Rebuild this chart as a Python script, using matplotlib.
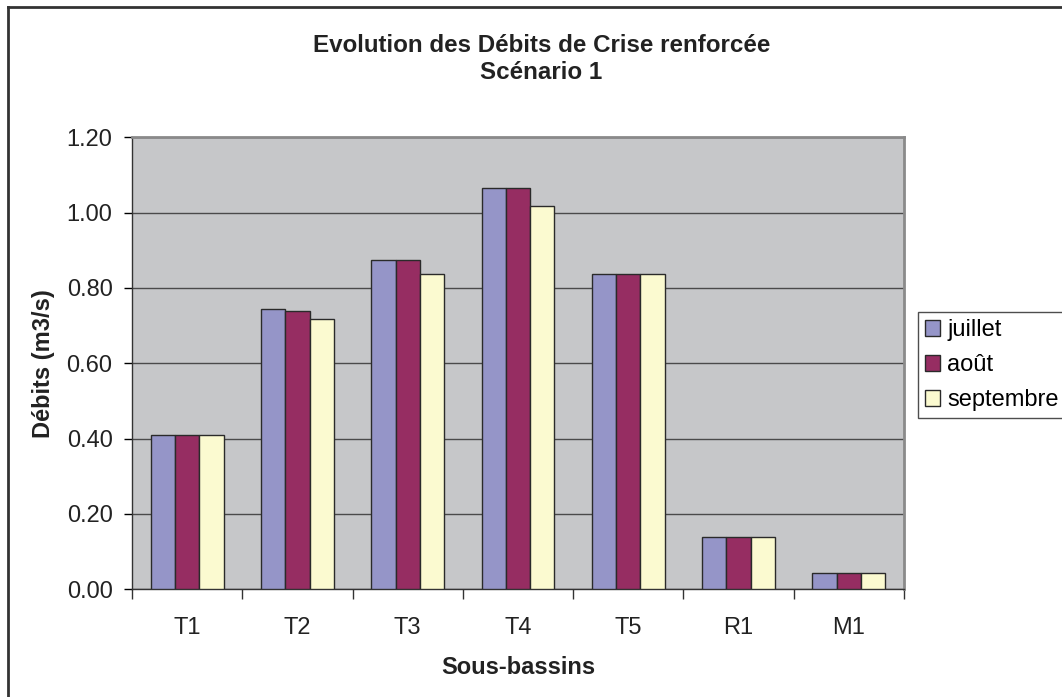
import matplotlib
matplotlib.use("Agg")
import matplotlib.pyplot as plt
import numpy as np
from matplotlib.lines import Line2D

plt.rcParams['font.family'] = ['Liberation Sans', 'DejaVu Sans']

bassins = ["T1", "T2", "T3", "T4", "T5", "R1", "M1"]
juillet = [0.41, 0.745, 0.873, 1.065, 0.838, 0.14, 0.044]
aout = [0.41, 0.740, 0.873, 1.065, 0.838, 0.14, 0.044]
septembre = [0.41, 0.718, 0.837, 1.017, 0.838, 0.14, 0.044]

series = [("juillet", juillet, "#9595C8"),
          ("août", aout, "#962D62"),
          ("septembre", septembre, "#FBFAD0")]

fig = plt.figure(figsize=(10.62, 6.97), dpi=100)
ax = fig.add_axes([0.1243, 0.1545, 0.7269, 0.6485])
ax.set_facecolor("#C6C7C9")

x = np.arange(len(bassins))
w = 0.22
for i, (name, vals, col) in enumerate(series):
    ax.bar(x + (i - 1) * w, vals, width=w, color=col, edgecolor="#2a2a2a",
           linewidth=1.0, label=name, zorder=3)

ax.set_xlim(-0.5, len(bassins) - 0.5)
ax.set_ylim(0, 1.2)
ax.set_yticks(np.arange(0, 1.21, 0.2))
ax.set_yticklabels([f"{v:.2f}" for v in np.arange(0, 1.21, 0.2)])
ax.yaxis.grid(True, color="#4a4a4a", linewidth=1.0, zorder=1)
ax.set_axisbelow(True)

# category labels centred, tick marks between categories
ax.set_xticks(x)
ax.set_xticklabels(bassins)
ax.set_xticks(np.arange(-0.5, len(bassins)), minor=True)
ax.tick_params(axis="x", which="major", length=0, pad=20, labelsize=17)
ax.tick_params(axis="x", which="minor", length=7, width=1, color="#333333", direction="out")
ax.tick_params(axis="y", length=6, width=1, pad=8, labelsize=17, direction="out")
for lab in ax.get_yticklabels() + ax.get_xticklabels():
    lab.set_color("#222222")

for side in ["top", "right"]:
    ax.spines[side].set_color("#8a8a8a")
    ax.spines[side].set_linewidth(2)
for side in ["left", "bottom"]:
    ax.spines[side].set_color("#333333")
    ax.spines[side].set_linewidth(1)

ax.set_ylabel("Débits (m3/s)", fontsize=17, fontweight="bold", labelpad=8, color="#222222")
ax.set_xlabel("Sous-bassins", fontsize=17, fontweight="bold", labelpad=12, color="#222222")

fig.text(0.510, 0.915, "Evolution des Débits de Crise renforcée\nScénario 1",
         ha="center", va="center", fontsize=17.4, fontweight="bold",
         color="#222222", linespacing=1.25)

leg = fig.legend(loc="upper left", bbox_to_anchor=(0.864, 0.552), fontsize=17,
                 frameon=True, fancybox=False, edgecolor="#222222",
                 handlelength=0.65, handleheight=0.65, handletextpad=0.3,
                 labelspacing=0.55, borderpad=0.3, borderaxespad=0)
leg.get_frame().set_linewidth(1)

# outer chart frame
fig.add_artist(Line2D([8 / 1062, 8 / 1062], [0, 1 - 7 / 697],
                      transform=fig.transFigure, color="#333333", linewidth=2))
fig.add_artist(Line2D([8 / 1062, 1], [1 - 7 / 697, 1 - 7 / 697],
                      transform=fig.transFigure, color="#333333", linewidth=2))

fig.savefig("out.png", dpi=100)
